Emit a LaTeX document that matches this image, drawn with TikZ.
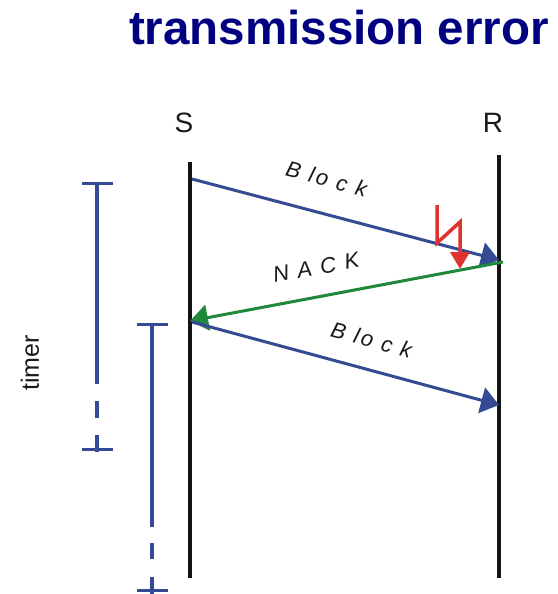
\documentclass[tikz,border=0pt]{standalone}
\usepackage{fontspec}
\setmainfont{Liberation Sans}
\newfontfamily\spacedfont[LetterSpace=12]{Liberation Sans}
\usetikzlibrary{arrows.meta}

\definecolor{blockblue}{RGB}{52,74,146}
\definecolor{nackgreen}{RGB}{32,136,58}
\definecolor{boltred}{RGB}{224,50,46}
\definecolor{titlenavy}{RGB}{0,0,128}

\begin{document}
\begin{tikzpicture}[
  x=1pt, y=-1pt,
  lifeline/.style={line width=4pt, draw=black!92},
  block/.style={-{Triangle[length=18pt, width=26pt]}, line width=3pt, draw=blockblue, fill=blockblue},
  nack/.style={-{Triangle[length=18pt, width=26pt]}, line width=3pt, draw=nackgreen, fill=nackgreen},
  bolt/.style={-{Triangle[length=17pt, width=19pt]}, line width=3.5pt, draw=boltred, line join=miter},
  timerbar/.style={line width=4.5pt, draw=blockblue},
  timertick/.style={line width=3pt, draw=blockblue},
  msglabel/.style={font=\spacedfont\itshape\fontsize{22}{25}\selectfont, inner sep=0pt, text=black!90},
  endlabel/.style={font=\fontsize{28}{32}\selectfont, anchor=base, text=black!90}
]
\useasboundingbox (0,0) rectangle (557,594);

\node[anchor=base, font=\bfseries\fontsize{47.5}{52}\selectfont, text=titlenavy] (title) at (339,45)
  {transmission error};

% sender and receiver
\node[endlabel] (S) at (184,132) {S};
\node[endlabel] (R) at (493,132) {R};

\coordinate (sTop) at (190,162);
\coordinate (sBot) at (190,578);
\coordinate (rTop) at (499,155);
\coordinate (rBot) at (499,578);
\draw[lifeline] (sTop) -- (sBot);
\draw[lifeline] (rTop) -- (rBot);

% messages
\coordinate (blockOut) at (192,179);
\coordinate (blockIn) at (499,260);
\coordinate (nackOut) at (503,262);
\coordinate (nackIn) at (190,321);
\coordinate (resendOut) at (192,322);
\coordinate (resendIn) at (499,405);

\draw[block] (blockOut) -- node[msglabel, sloped, pos=0.41, above=25pt] {B lo c k} (blockIn);
\draw[nack] (nackOut) -- node[msglabel, sloped, pos=0.58, above=20pt] {N A C K} (nackIn);
\draw[block] (resendOut) -- node[msglabel, sloped, pos=0.56, above=20pt] {B lo c k} (resendIn);

% error
\coordinate (boltTop) at (437,205);
\coordinate (boltLow) at (437,243);
\coordinate (boltHigh) at (460,222);
\coordinate (boltEnd) at (460,269);
\draw[bolt] (boltTop) -- (boltLow) -- (boltHigh) -- (boltEnd);

% timers
\node[font=\fontsize{25}{28}\selectfont, rotate=90, text=black!90] (timer) at (30,363) {timer};

\coordinate (t1Top) at (97,183);
\coordinate (t1Bot) at (97,449);
\draw[timertick] (82,183) -- (113,183);
\draw[timerbar] (t1Top) -- (97,384) (97,401) -- (97,418) (97,435) -- (97,452);
\draw[timertick] (82,449) -- (113,449);

\coordinate (t2Top) at (152,324);
\coordinate (t2Bot) at (152,590);
\draw[timertick] (137,324) -- (168,324);
\draw[timerbar] (t2Top) -- (152,527) (152,543) -- (152,559) (152,577) -- (152,594);
\draw[timertick] (137,590) -- (168,590);

\end{tikzpicture}
\end{document}
